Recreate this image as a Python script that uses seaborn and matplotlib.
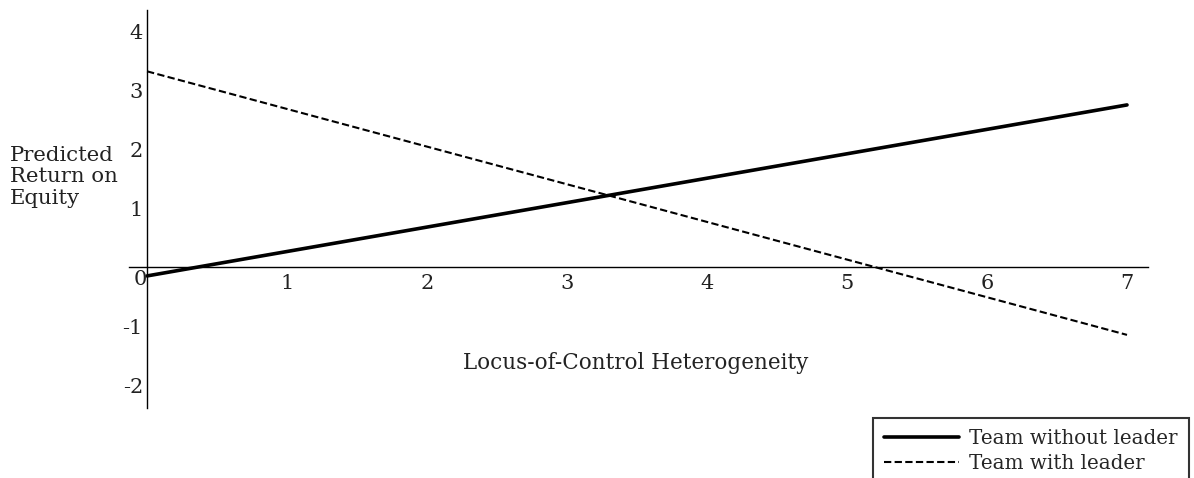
import matplotlib
matplotlib.use("Agg")
import matplotlib.pyplot as plt
import seaborn as sns
import pandas as pd

# Data
x_vals = [0, 7]
without_leader = [-0.15, 2.75]
with_leader = [3.32, -1.15]
series_names = ["Team without leader", "Team with leader"]
x_ticks = [1, 2, 3, 4, 5, 6, 7]
y_ticks = [-2, -1, 1, 2, 3, 4]

sns.set_theme(style="white")
plt.rcParams['font.family'] = ['DejaVu Serif']

df = pd.DataFrame({
    "x": x_vals * 2,
    "y": without_leader + with_leader,
    "series": [series_names[0]] * 2 + [series_names[1]] * 2,
})

W, H = 1194, 478
fig = plt.figure(figsize=(W / 100, H / 100), dpi=100)
ax = fig.add_axes([129 / W, 1 - 408 / H, (1148 - 129) / W, (408 - 10) / H])

sns.lineplot(data=df[df.series == series_names[0]], x="x", y="y", ax=ax,
             color="black", lw=2.6, label=series_names[0])
sns.lineplot(data=df[df.series == series_names[1]], x="x", y="y", ax=ax,
             color="black", lw=1.5, label=series_names[1])
ax.lines[1].set_dashes((3.5, 1.6))

ax.set_xlim(-0.129, 7.15)
ax.set_ylim(-2.39, 4.36)

for s in ["top", "right"]:
    ax.spines[s].set_visible(False)
ax.spines["left"].set_position(("data", 0))
ax.spines["bottom"].set_position(("data", 0))
for s in ["left", "bottom"]:
    ax.spines[s].set_color("black")
    ax.spines[s].set_linewidth(1.0)

ax.set_xticks(x_ticks)
ax.set_yticks(y_ticks)
ax.set_xticklabels([str(t) for t in x_ticks])
ax.set_yticklabels([str(t) for t in y_ticks])
ax.tick_params(axis="both", length=0, labelsize=15, colors="#222222")
ax.tick_params(axis="y", pad=3)
ax.tick_params(axis="x", pad=5)

ax.annotate("0", xy=(0, 0), xytext=(0, -2), textcoords="offset points",
            ha="right", va="top", fontsize=15, color="#222222")

ax.set_xlabel("")
ax.set_ylabel("")
fig.text(636 / W, 1 - 363 / H, "Locus-of-Control Heterogeneity",
         ha="center", va="center", fontsize=15.5, color="#222222")
fig.text(10 / W, 1 - 177 / H, "Predicted\nReturn on\nEquity",
         ha="left", va="center", fontsize=15.3, color="#222222", linespacing=1.15)

leg = fig.legend(handles=ax.lines[:2], labels=series_names,
                 loc="upper left", bbox_to_anchor=(873 / W, 1 - 418 / H),
                 frameon=True, fancybox=False, fontsize=14.3, handlelength=3.8,
                 borderpad=0.55, labelspacing=0.3, handletextpad=0.5,
                 borderaxespad=0)
leg.get_frame().set_edgecolor("black")
leg.get_frame().set_linewidth(1.5)
if ax.get_legend():
    ax.get_legend().remove()

fig.savefig("out.png", dpi=100)
